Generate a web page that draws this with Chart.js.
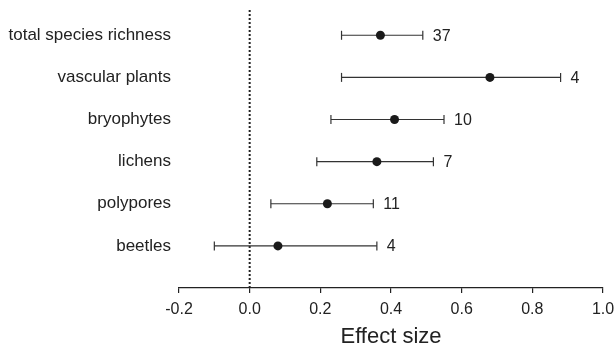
<!DOCTYPE html>
<html>
<head>
<meta charset="utf-8">
<script src="https://cdn.jsdelivr.net/npm/chart.js@4/dist/chart.umd.min.js"></script>
<style>
  html, body { margin:0; padding:0; background:#fff; overflow:hidden; }
</style>
</head>
<body>
<canvas id="forest" width="615" height="350"></canvas>
<script>
// data
var groups    = ['total species richness', 'vascular plants', 'bryophytes', 'lichens', 'polypores', 'beetles'];
var estimate  = [0.37, 0.68, 0.41, 0.36, 0.22, 0.08];
var lower     = [0.26, 0.26, 0.23, 0.19, 0.06, -0.10];
var upper     = [0.49, 0.88, 0.55, 0.52, 0.35, 0.36];
var nStudies  = ['37', '4', '10', '7', '11', '4'];
var xTickVals   = [-0.2, 0, 0.2, 0.4, 0.6, 0.8, 1.0];
var xTickLabels = ['-0.2', '0.0', '0.2', '0.4', '0.6', '0.8', '1.0'];

var ink = '#222';
var rowY = groups.map(function(g, i) { return groups.length - i; });  // top row highest

var datasets = [];

// point estimates (first = drawn on top)
datasets.push({
  data: estimate.map(function(v, i) { return { x: v, y: rowY[i] }; }),
  pointRadius: 4.5, pointBackgroundColor: '#1a1a1a', pointBorderColor: '#1a1a1a', pointBorderWidth: 0
});

// confidence intervals with end caps
groups.forEach(function(g, i) {
  datasets.push({
    data: [{ x: lower[i], y: rowY[i] }, { x: upper[i], y: rowY[i] }],
    showLine: true, borderColor: '#333', borderWidth: 1.2,
    pointStyle: 'line', rotation: 90, pointRadius: 4.5,
    pointBorderColor: '#333', pointBorderWidth: 1.2
  });
});

// dotted zero line
datasets.push({
  data: [{ x: 0, y: 0 }, { x: 0, y: 6.6 }],
  showLine: true, borderColor: ink, borderWidth: 2, borderDash: [2, 2],
  pointRadius: 0
});

var countLabels = {
  id: 'countLabels',
  afterDatasetsDraw: function(chart) {
    var ctx = chart.ctx, xs = chart.scales.x, ys = chart.scales.y;
    ctx.save();
    ctx.fillStyle = ink;
    ctx.font = '16px "Liberation Sans", Arial, sans-serif';
    ctx.textAlign = 'left';
    ctx.textBaseline = 'middle';
    nStudies.forEach(function(n, i) {
      ctx.fillText(n, xs.getPixelForValue(upper[i]) + 10, ys.getPixelForValue(rowY[i]) + 1);
    });
    ctx.restore();
  }
};

new Chart(document.getElementById('forest').getContext('2d'), {
  type: 'scatter',
  data: { datasets: datasets },
  options: {
    responsive: false,
    animation: false,
    layout: { padding: { left: 0, top: 10, right: 12, bottom: 0 } },
    plugins: { legend: { display: false }, tooltip: { enabled: false } },
    scales: {
      x: {
        type: 'linear', min: -0.2, max: 1.0,
        afterBuildTicks: function(scale) {
          scale.ticks = xTickVals.map(function(v) { return { value: v }; });
        },
        afterFit: function(scale) { scale.height = 62; scale.paddingLeft = 0; scale.paddingRight = 0; },
        grid: { drawOnChartArea: false, drawTicks: true, tickLength: 5, color: ink, lineWidth: 1.2 },
        border: { display: true, color: ink, width: 1.2 },
        ticks: {
          padding: 7, color: ink, maxRotation: 0, autoSkip: false,
          font: { family: '"Liberation Sans", Arial, sans-serif', size: 16 },
          callback: function(v) { return xTickLabels[xTickVals.indexOf(v)]; }
        },
        title: {
          display: true, text: 'Effect size', color: ink,
          font: { family: '"Liberation Sans", Arial, sans-serif', size: 22 },
          padding: { top: 0, bottom: 0 }
        }
      },
      y: {
        type: 'linear', min: 0, max: 6.6,
        afterBuildTicks: function(scale) {
          scale.ticks = rowY.map(function(v) { return { value: v }; });
        },
        afterFit: function(scale) { scale.width = 179; scale.paddingTop = 0; scale.paddingBottom = 0; },
        grid: { display: false, drawTicks: false },
        border: { display: false },
        ticks: {
          padding: 8, color: ink, autoSkip: false,
          font: { family: '"Liberation Sans", Arial, sans-serif', size: 17 },
          callback: function(v) { return groups[groups.length - v]; }
        }
      }
    }
  },
  plugins: [countLabels]
});
</script>
</body>
</html>
